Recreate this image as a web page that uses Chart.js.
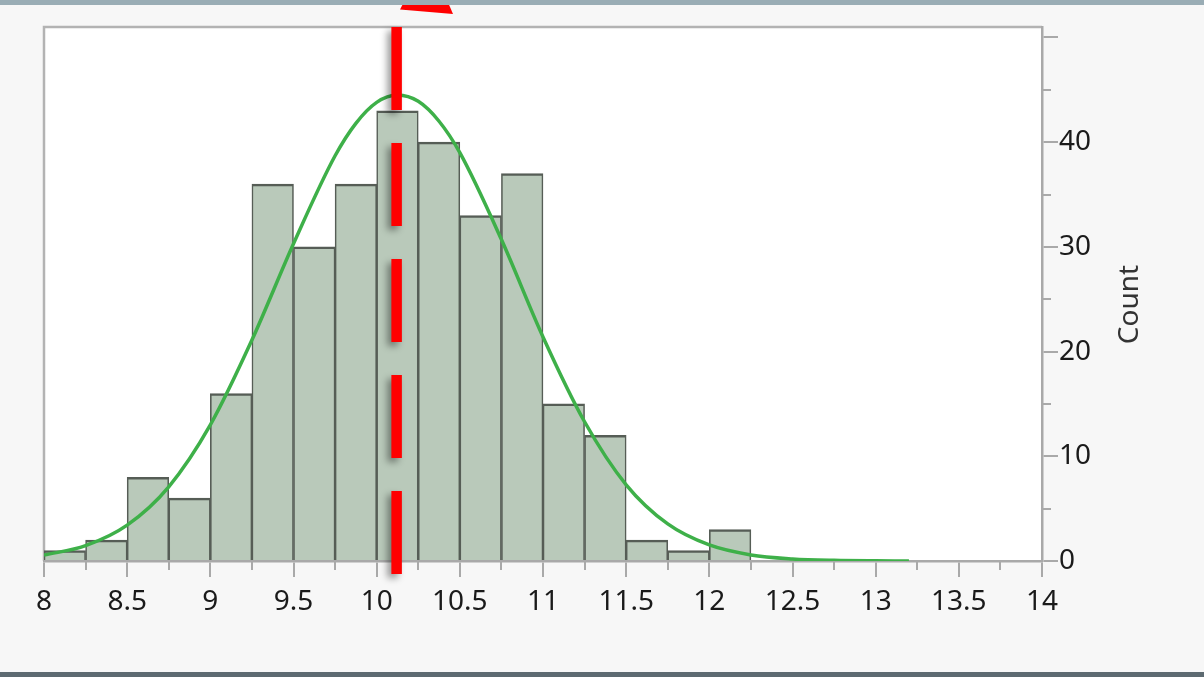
<!DOCTYPE html>
<html>
<head>
<meta charset="utf-8">
<script src="https://cdn.jsdelivr.net/npm/chart.js@4/dist/chart.umd.min.js"></script>
<style>
  html, body { margin: 0; padding: 0; background: #f7f7f7; }
  #wrap { width: 1204px; height: 677px; }
</style>
</head>
<body>
<div id="wrap"><canvas id="hist" width="1204" height="677"></canvas></div>
<script>
// Histogram bins (left edges) and their counts
const binStarts = [8, 8.25, 8.5, 8.75, 9, 9.25, 9.5, 9.75, 10, 10.25, 10.5, 10.75, 11, 11.25, 11.5, 11.75, 12];
const binWidth = 0.25;
const counts = [1, 2, 8, 6, 16, 36, 30, 36, 43, 40, 33, 37, 15, 12, 2, 1, 3];

// Fitted normal density curve, scaled to counts
const curveX = [8, 8.25, 8.5, 8.75, 9, 9.25, 9.5, 9.75, 9.875, 10, 10.125, 10.25, 10.375, 10.5, 10.75, 11, 11.25, 11.5, 11.75, 12, 12.25, 12.5, 12.75, 13, 13.2];
const curveY = [0.56, 1.47, 3.43, 7.09, 13.0, 21.1, 30.3, 38.7, 41.8, 43.8, 44.5, 43.9, 42.0, 39.0, 30.7, 21.4, 13.3, 7.28, 3.54, 1.53, 0.58, 0.20, 0.06, 0.015, 0.004];

// Reference marker position
const markerValue = 10.12;

// Axis labels
const xTickLabels = ['8', '8.5', '9', '9.5', '10', '10.5', '11', '11.5', '12', '12.5', '13', '13.5', '14'];
const yTickLabels = ['0', '10', '20', '30', '40'];
const yTitle = 'Count';

const FONT = '"Noto Sans", "Open Sans", sans-serif';
const AXIS_GRAY = '#a9a9a9';

const barPoints = binStarts.map((s, i) => ({ x: s + binWidth / 2, y: counts[i] }));
const curvePoints = curveX.map((x, i) => ({ x: x, y: curveY[i] }));

const framePlugin = {
  id: 'frame',
  beforeDraw(chart) {
    const { ctx, chartArea: a } = chart;
    ctx.save();
    ctx.fillStyle = '#f7f7f7';
    ctx.fillRect(0, 0, chart.width, chart.height);
    ctx.fillStyle = '#ffffff';
    ctx.fillRect(a.left, a.top, a.right - a.left, a.bottom - a.top);
    ctx.strokeStyle = '#b3b3b3';
    ctx.lineWidth = 2.5;
    ctx.beginPath();
    ctx.moveTo(a.left, a.bottom);
    ctx.lineTo(a.left, a.top);
    ctx.lineTo(a.right, a.top);
    ctx.stroke();
    ctx.restore();
  },
  afterDraw(chart) {
    const { ctx, chartArea: a, scales } = chart;
    const xs = scales.x, ys = scales.y;
    ctx.save();
    // minor ticks
    ctx.strokeStyle = AXIS_GRAY;
    ctx.lineWidth = 2;
    ctx.beginPath();
    for (let v = 8.25; v < 14; v += 0.5) {
      const px = Math.round(xs.getPixelForValue(v));
      ctx.moveTo(px, a.bottom);
      ctx.lineTo(px, a.bottom + 9);
    }
    for (let v = 5; v < 51; v += 10) {
      const py = Math.round(ys.getPixelForValue(v));
      ctx.moveTo(a.right, py);
      ctx.lineTo(a.right + 9, py);
    }
    ctx.stroke();

    // y-axis title, reading bottom to top
    ctx.fillStyle = '#333333';
    ctx.font = '28px ' + FONT;
    ctx.textAlign = 'center';
    ctx.textBaseline = 'middle';
    ctx.translate(1130, ys.getPixelForValue(24.5));
    ctx.rotate(-Math.PI / 2);
    ctx.fillText(yTitle, 0, 0);
    ctx.setTransform(1, 0, 0, 1, 0, 0);

    // arrow head at the top of the marker
    ctx.fillStyle = '#ff0000';
    ctx.beginPath();
    ctx.moveTo(405, 0);
    ctx.lineTo(400, 9.5);
    ctx.lineTo(453, 14);
    ctx.lineTo(447, 0);
    ctx.closePath();
    ctx.fill();

    // window edges
    ctx.fillStyle = '#9aadb5';
    ctx.fillRect(0, 0, chart.width, 5);
    ctx.fillStyle = '#5d6a71';
    ctx.fillRect(0, 672, chart.width, 5);
    ctx.restore();
  },
  afterDatasetsDraw(chart) {
    const { ctx, chartArea: a, scales } = chart;
    const px = scales.x.getPixelForValue(markerValue);
    ctx.save();
    ctx.strokeStyle = '#ff0000';
    ctx.lineWidth = 10.5;
    ctx.lineCap = 'butt';
    ctx.setLineDash([83, 33]);
    ctx.shadowColor = 'rgba(0,0,0,0.4)';
    ctx.shadowBlur = 7;
    ctx.shadowOffsetX = -4;
    ctx.shadowOffsetY = 4;
    ctx.beginPath();
    ctx.moveTo(px, a.top);
    ctx.lineTo(px, a.bottom + 14);
    ctx.stroke();
    ctx.restore();
  }
};

new Chart(document.getElementById('hist'), {
  type: 'bar',
  data: {
    datasets: [
      {
        type: 'line',
        data: curvePoints,
        borderColor: '#3eb049',
        borderWidth: 3.5,
        pointRadius: 0,
        cubicInterpolationMode: 'monotone',
        order: 0
      },
      {
        type: 'bar',
        data: barPoints,
        backgroundColor: '#b9c9ba',
        borderColor: '#565d56',
        borderWidth: { top: 2.5, left: 1.6, right: 1.6, bottom: 0 },
        borderSkipped: false,
        barPercentage: 1,
        categoryPercentage: 1,
        grouped: false,
        order: 1
      }
    ]
  },
  options: {
    responsive: false,
    animation: false,
    devicePixelRatio: 1,
    layout: { padding: { left: 44, top: 27, right: 0, bottom: 0 } },
    plugins: { legend: { display: false }, tooltip: { enabled: false } },
    scales: {
      x: {
        type: 'linear',
        position: 'bottom',
        min: 8,
        max: 14,
        offset: false,
        grid: { offset: false, drawOnChartArea: false, tickLength: 16, color: AXIS_GRAY, lineWidth: 2 },
        border: { color: AXIS_GRAY, width: 2.5 },
        ticks: {
          stepSize: 0.5,
          padding: 8,
          maxRotation: 0,
          autoSkip: false,
          color: '#1a1a1a',
          font: { family: FONT, size: 28 },
          callback: (v) => (xTickLabels.includes(String(v)) ? String(v) : '')
        },
        afterFit: (s) => { s.height = 116; }
      },
      y: {
        position: 'right',
        min: 0,
        max: 51,
        grid: { drawOnChartArea: false, tickLength: 16, color: AXIS_GRAY, lineWidth: 2 },
        border: { color: AXIS_GRAY, width: 2.5 },
        ticks: {
          stepSize: 10,
          includeBounds: false,
          padding: 1,
          color: '#1a1a1a',
          font: { family: FONT, size: 28 },
          callback: (v) => (yTickLabels.includes(String(v)) ? String(v) : '')
        },
        afterFit: (s) => { s.width = 162; }
      }
    }
  },
  plugins: [framePlugin]
});
</script>
</body>
</html>
